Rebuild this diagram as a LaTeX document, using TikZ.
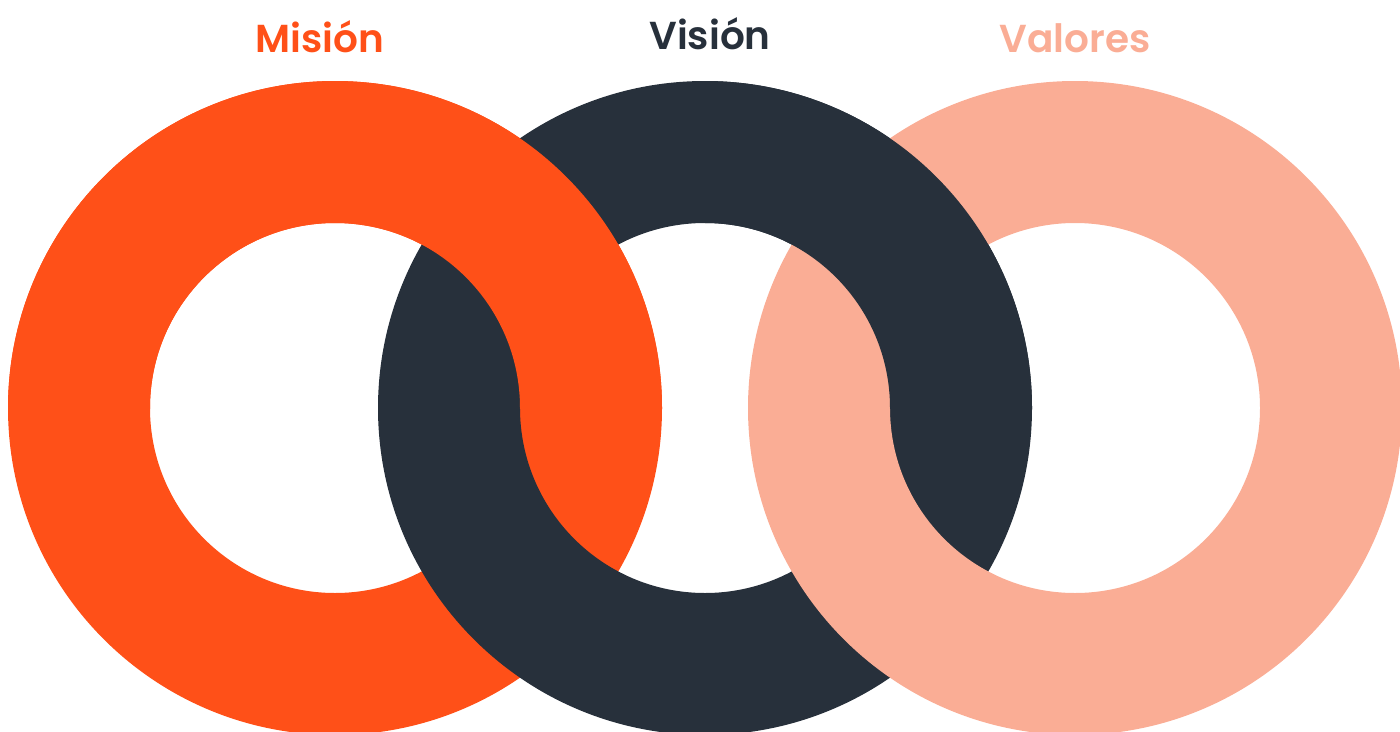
\documentclass[tikz,border=0pt]{standalone}
\usepackage{fontspec}
\setmainfont{Poppins}
\newfontfamily\titlefont{Poppins SemiBold}
\usepackage{xcolor}
\definecolor{mision}{HTML}{FF5018}
\definecolor{vision}{HTML}{27303B}
\definecolor{valores}{HTML}{FAAD95}

\begin{document}
\begin{tikzpicture}[x=1pt,y=-1pt,
    ring/.style={even odd rule},
    title/.style={font=\titlefont\fontsize{39}{39}\selectfont, anchor=base}]
    \useasboundingbox (0,0) rectangle (1400,731);

    \coordinate (c1) at (335,408);
    \coordinate (c2) at (705,408);
    \coordinate (c3) at (1075,408);

    % titles
    \node[title, text=mision]  (tmision)  at (320,52) {Misión};
    \node[title, text=vision]  (tvision)  at (710,49) {Visión};
    \node[title, text=valores] (tvalores) at (1075,52) {Valores};

    % rings, back to front
    \fill[mision,ring] (c1) circle[radius=327pt] circle[radius=185pt];
    \fill[vision,ring] (c2) circle[radius=327pt] circle[radius=185pt];
    \begin{scope} % upper half of Mision over Vision
        \clip (0,0) rectangle (700,408);
        \fill[mision,ring] (c1) circle[radius=327pt] circle[radius=185pt];
    \end{scope}
    \fill[valores,ring] (c3) circle[radius=327pt] circle[radius=185pt];
    \begin{scope} % upper right of Vision over Valores
        \clip (705,0) rectangle (1100,408);
        \fill[vision,ring] (c2) circle[radius=327pt] circle[radius=185pt];
    \end{scope}
\end{tikzpicture}
\end{document}
